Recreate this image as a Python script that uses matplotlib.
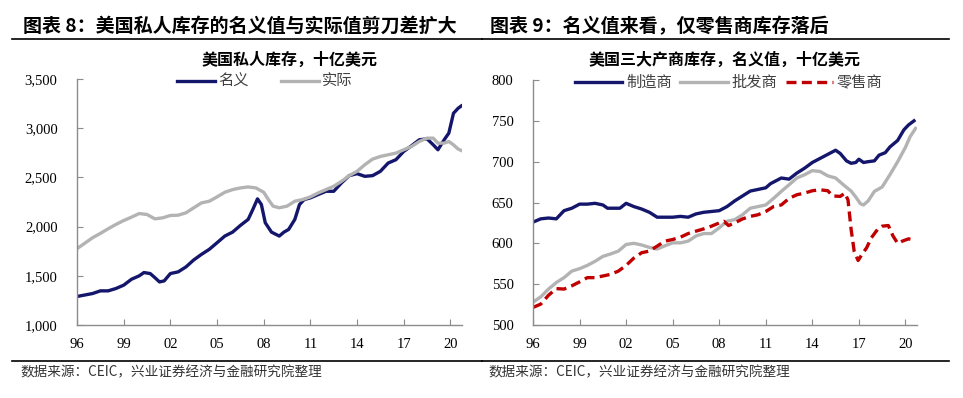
import matplotlib
matplotlib.use("Agg")
import matplotlib.pyplot as plt
from matplotlib.lines import Line2D
import numpy as np

plt.rcParams['font.family'] = ['Noto Sans CJK SC', 'DejaVu Sans']

# ---------------- data: left panel (US private inventories, bn USD) ----------
nom_x = [1996.0, 1997.0, 1997.5, 1998.0, 1998.5, 1999.0, 1999.5, 2000.0, 2000.3, 2000.7,
         2001.0, 2001.3, 2001.6, 2002.0, 2002.5, 2003.0, 2003.5, 2004.0, 2004.5, 2005.0,
         2005.5, 2006.0, 2006.5, 2007.0, 2007.3, 2007.6, 2007.85, 2008.1, 2008.5, 2009.0,
         2009.3, 2009.6, 2010.0, 2010.3, 2010.6, 2011.0, 2011.5, 2012.0, 2012.5, 2013.0,
         2013.5, 2014.0, 2014.5, 2015.0, 2015.5, 2016.0, 2016.5, 2017.0, 2017.5, 2018.0,
         2018.5, 2018.9, 2019.2, 2019.6, 2019.9, 2020.2, 2020.5, 2020.7]
nominal = [1290, 1320, 1347, 1347, 1371, 1405, 1465, 1500, 1533, 1523,
           1482, 1438, 1448, 1523, 1540, 1590, 1661, 1718, 1769, 1836,
           1904, 1944, 2012, 2073, 2174, 2282, 2224, 2039, 1944, 1904,
           1944, 1971, 2073, 2224, 2275, 2292, 2326, 2359, 2359, 2444,
           2518, 2538, 2511, 2518, 2562, 2646, 2680, 2764, 2821, 2882,
           2892, 2831, 2781, 2882, 2950, 3152, 3203, 3226]

real_x = [1996.0, 1997.0, 1997.5, 1998.0, 1998.5, 1999.0, 1999.5, 2000.0, 2000.5, 2001.0,
          2001.5, 2002.0, 2002.5, 2003.0, 2003.5, 2004.0, 2004.5, 2005.0, 2005.5, 2006.0,
          2006.5, 2007.0, 2007.5, 2008.0, 2008.3, 2008.6, 2009.0, 2009.5, 2010.0, 2010.5,
          2011.0, 2011.5, 2012.0, 2012.5, 2013.0, 2013.5, 2014.0, 2014.5, 2015.0, 2015.5,
          2016.0, 2016.5, 2017.0, 2017.5, 2018.0, 2018.5, 2018.9, 2019.2, 2019.6, 2019.9,
          2020.2, 2020.5, 2020.7]
real = [1776, 1887, 1931, 1978, 2022, 2062, 2096, 2133, 2123, 2079,
        2089, 2113, 2116, 2140, 2191, 2241, 2258, 2302, 2349, 2376,
        2393, 2403, 2393, 2349, 2275, 2208, 2191, 2208, 2258, 2275,
        2302, 2342, 2376, 2410, 2460, 2518, 2562, 2629, 2686, 2713,
        2730, 2747, 2781, 2814, 2865, 2899, 2899, 2848, 2848, 2865,
        2831, 2788, 2774]

# ---------------- data: right panel (three sectors, nominal, bn USD) ---------
mfg_x = [1996.0, 1996.5, 1997.0, 1997.5, 1998.0, 1998.5, 1999.0, 1999.5, 2000.0, 2000.5,
         2000.8, 2001.2, 2001.6, 2002.0, 2002.5, 2003.0, 2003.5, 2004.0, 2004.5, 2005.0,
         2005.5, 2006.0, 2006.5, 2007.0, 2007.5, 2008.0, 2008.5, 2009.0, 2009.5, 2010.0,
         2010.5, 2011.0, 2011.3, 2011.6, 2012.0, 2012.5, 2013.0, 2013.5, 2014.0, 2014.5,
         2015.0, 2015.5, 2015.8, 2016.2, 2016.5, 2016.8, 2017.0, 2017.3, 2017.6, 2018.0,
         2018.3, 2018.7, 2019.0, 2019.5, 2019.9, 2020.2, 2020.55]
manufacturers = [626, 630, 631, 630, 640, 643, 648, 648, 649, 647,
                 643, 643, 643, 649, 645, 642, 638, 632, 632, 632,
                 633, 632, 636, 638, 639, 640, 645, 652, 658, 664,
                 666, 668, 673, 676, 680, 678.6, 686, 692, 699, 704,
                 709, 714, 710, 701, 698, 699, 703, 699, 700, 701,
                 708, 711, 718, 726, 739, 745, 750]

whl_x = [1996.0, 1996.5, 1997.0, 1997.5, 1998.0, 1998.5, 1999.0, 1999.5, 2000.0, 2000.5,
         2001.0, 2001.5, 2002.0, 2002.5, 2003.0, 2003.5, 2004.0, 2004.5, 2005.0, 2005.5,
         2006.0, 2006.5, 2007.0, 2007.5, 2008.0, 2008.5, 2009.0, 2009.5, 2010.0, 2010.5,
         2011.0, 2011.5, 2012.0, 2012.5, 2013.0, 2013.5, 2014.0, 2014.5, 2015.0, 2015.5,
         2016.0, 2016.5, 2016.8, 2017.1, 2017.3, 2017.6, 2018.0, 2018.5, 2019.0, 2019.5,
         2020.0, 2020.3, 2020.65]
wholesalers = [528, 534.5, 544, 552, 558, 566, 569, 573, 578, 584,
               587, 590.5, 598.6, 600, 598, 595, 593, 597, 600.6, 600.6,
               602.7, 609, 612, 612, 619, 627, 629, 635, 643, 645,
               647, 655, 663.6, 671.7, 680, 684, 689, 688, 682.6, 680,
               671.7, 664, 656.7, 648.5, 647, 652, 663.6, 669, 684, 700,
               717.5, 730.5, 740.7]

ret_x = [1996.0, 1996.5, 1997.0, 1997.5, 1998.0, 1998.5, 1999.0, 1999.5, 2000.0, 2000.5,
         2001.0, 2001.5, 2002.0, 2002.5, 2003.0, 2003.5, 2004.0, 2004.5, 2005.0, 2005.5,
         2006.0, 2006.5, 2007.0, 2007.5, 2008.0, 2008.3, 2008.6, 2009.0, 2009.5, 2010.0,
         2010.5, 2011.0, 2011.5, 2012.0, 2012.5, 2013.0, 2013.5, 2014.0, 2014.5, 2015.0,
         2015.3, 2015.8, 2016.1, 2016.3, 2016.5, 2016.7, 2016.95, 2017.2, 2017.5, 2017.8,
         2018.2, 2018.5, 2018.9, 2019.2, 2019.5, 2019.8, 2020.2, 2020.6]
retailers = [521.5, 525.6, 536.5, 544.6, 544, 548, 552.8, 558, 558, 560,
             562, 566, 573, 582, 588.5, 590.5, 596.6, 602.7, 604.7, 607.5,
             612, 614.9, 617.7, 621, 625, 627, 621.8, 625, 629.9, 633,
             635, 639, 645, 647, 655, 659.5, 661.5, 664.4, 665.6, 664.4,
             658, 657.5, 661.5, 653, 617, 590, 579, 586.4, 594.6, 606.7,
             617, 621, 621.8, 609, 600, 602.7, 605.5, 604]

xtick_pos = [1996, 1999, 2002, 2005, 2008, 2011, 2014, 2017, 2020]
xtick_labels = ['96', '99', '02', '05', '08', '11', '14', '17', '20']
left_yticks = [1000, 1500, 2000, 2500, 3000, 3500]
left_ylabels = ['1,000', '1,500', '2,000', '2,500', '3,000', '3,500']
right_yticks = [500, 550, 600, 650, 700, 750, 800]

NAVY = '#14166b'
GRAY = '#b3b3b3'
RED = '#c00000'
SPINE = '#8c8c8c'
SERIF = ['Liberation Serif', 'DejaVu Serif']

fig = plt.figure(figsize=(9.63, 3.98), dpi=100)

ax1 = fig.add_axes([0.0800, 0.1834, 0.3998, 0.6181])
ax2 = fig.add_axes([0.5535, 0.1834, 0.3988, 0.6156])


def style(ax, yticks, ylabels, ylim):
    ax.set_xlim(1996, 2020.75)
    ax.set_ylim(*ylim)
    for s in ['top', 'right']:
        ax.spines[s].set_visible(False)
    for s in ['left', 'bottom']:
        ax.spines[s].set_color(SPINE)
        ax.spines[s].set_linewidth(1.0)
    ax.set_xticks(xtick_pos)
    ax.set_xticklabels(xtick_labels, family=SERIF, fontsize=10.5)
    ax.set_yticks(yticks)
    ax.set_yticklabels(ylabels, family=SERIF, fontsize=10.5)
    ax.tick_params(axis='x', direction='in', length=4, color=SPINE, pad=9)
    ax.tick_params(axis='y', direction='in', length=4, color=SPINE, pad=14)


ax1.plot(nom_x, nominal, color=NAVY, lw=2.4, label='名义', solid_joinstyle='round')
ax1.plot(real_x, real, color=GRAY, lw=2.4, label='实际', solid_joinstyle='round')
style(ax1, left_yticks, left_ylabels, (1000, 3500))

ax2.plot(mfg_x, manufacturers, color=NAVY, lw=2.4, label='制造商')
ax2.plot(whl_x, wholesalers, color=GRAY, lw=2.4, label='批发商')
ax2.plot(ret_x, retailers, color=RED, lw=2.4, ls=(0, (3, 1.6)), label='零售商')
style(ax2, right_yticks, [str(v) for v in right_yticks], (500, 800))

prop = {'family': ['Noto Sans CJK SC'], 'size': 11}
l1 = ax1.legend(loc='center', bbox_to_anchor=(0.488, 0.99), ncol=2, frameon=False,
                handlelength=2.5, handletextpad=0.2, columnspacing=2.1, prop=prop,
                borderaxespad=0)
l2 = ax2.legend(loc='center', bbox_to_anchor=(0.51, 0.99), ncol=3, frameon=False,
                handlelength=3.1, handletextpad=0.25, columnspacing=0.55, prop=prop,
                borderaxespad=0)
for l in (l1, l2):
    for t in l.get_texts():
        t.set_color('#404040')

# subtitles
fig.text(0.301, 0.851, '美国私人库存，十亿美元', ha='center', va='center',
         fontsize=11.5, fontweight='bold', color='black')
fig.text(0.752, 0.851, '美国三大产商库存，名义值，十亿美元', ha='center', va='center',
         fontsize=11.5, fontweight='bold', color='black')

# panel titles
fig.text(0.024, 0.933, '图表 8：美国私人库存的名义值与实际值剪刀差扩大', ha='left', va='center',
         fontsize=13.7, fontweight='bold', color='black')
fig.text(0.509, 0.933, '图表 9：名义值来看，仅零售商库存落后', ha='left', va='center',
         fontsize=13.7, fontweight='bold', color='black')

# rules
for xs in ([0.012, 0.5], [0.5, 0.985]):
    fig.add_artist(Line2D(xs, [1 - 39 / 398] * 2, color='black', lw=1.2, transform=fig.transFigure))
    fig.add_artist(Line2D(xs, [1 - 361 / 398] * 2, color='black', lw=1.2, transform=fig.transFigure))

# sources
src = '数据来源：CEIC，兴业证券经济与金融研究院整理'
fig.text(0.021, 1 - 372 / 398, src, ha='left', va='center', fontsize=9.8, color='#333333',
         family=['Noto Sans CJK SC', 'DejaVu Sans'])
fig.text(0.507, 1 - 372 / 398, src, ha='left', va='center', fontsize=9.8, color='#333333',
         family=['Noto Sans CJK SC', 'DejaVu Sans'])

fig.savefig('out.png', dpi=100)
